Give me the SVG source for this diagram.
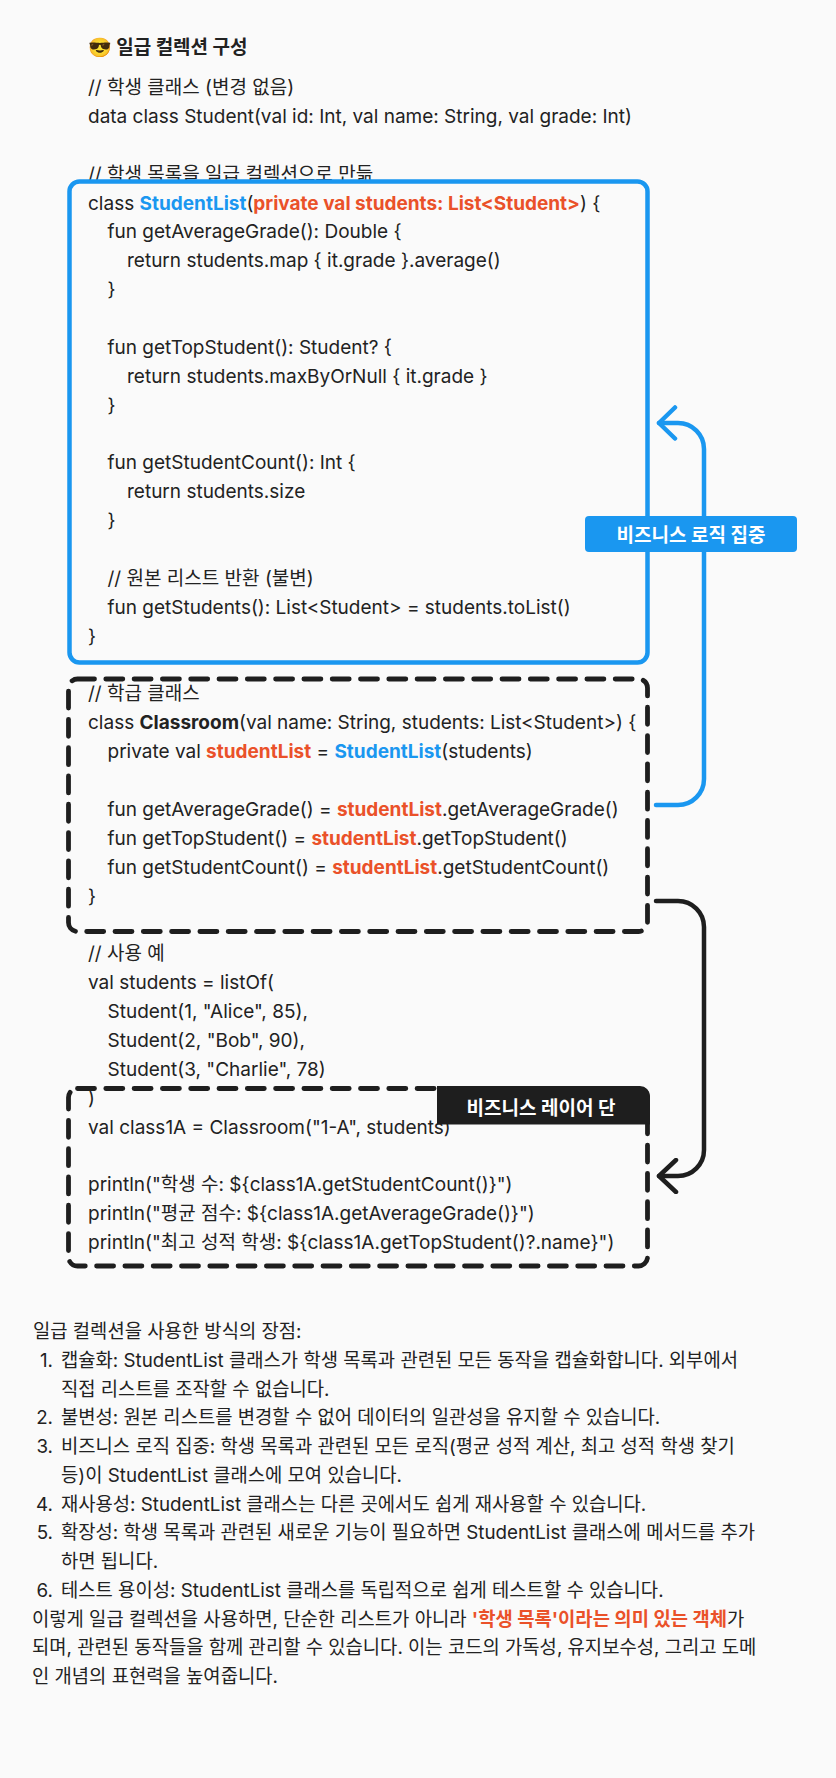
<svg xmlns="http://www.w3.org/2000/svg" width="836" height="1778" viewBox="0 0 836 1778">
<defs>
<style>
.t{font-family:Inter,"Noto Sans CJK KR",sans-serif;font-size:19px;fill:#222}
.n{font-size:18.8px}
.h{font-weight:700;font-size:19px}
.bl{fill:#1a97f0;font-weight:700}
.rd{fill:#ea5129;font-weight:700}
.bd{font-weight:700}
.badge{font-family:Inter,"Noto Sans CJK KR",sans-serif;font-size:19px;font-weight:700;fill:#fff}
.dash{fill:#fafafa;stroke:#1e1e1e;stroke-width:4.8;stroke-dasharray:17 11.3;stroke-linecap:round}
.conn{fill:none;stroke-width:4.5;stroke-linecap:round;stroke-linejoin:round}
</style>
<marker id="chevB" viewBox="-20 -18 24 36" markerWidth="24" markerHeight="36" refX="0" refY="0" orient="auto" markerUnits="userSpaceOnUse">
<path d="M-16,-15.5 L0,0 L-16,15.5" fill="none" stroke="#1a97f0" stroke-width="4.5" stroke-linecap="round" stroke-linejoin="round"/>
</marker>
<marker id="chevK" viewBox="-20 -18 24 36" markerWidth="24" markerHeight="36" refX="0" refY="0" orient="auto" markerUnits="userSpaceOnUse">
<path d="M-17,-16 L0,0 L-17,16" fill="none" stroke="#1e1e1e" stroke-width="4.5" stroke-linecap="round" stroke-linejoin="round"/>
</marker>
</defs>
<rect x="0" y="0" width="836" height="1778" fill="#fafafa"/>

<g id="title">
<text class="t h" x="88" y="54"><tspan font-family="'Noto Color Emoji','DejaVu Sans',sans-serif">😎</tspan> 일급 컬렉션 구성</text>
</g>

<g id="code-header">
<text class="t" x="88" y="94">// 학생 클래스 (변경 없음)</text>
<text class="t" x="88" y="122.9">data class Student(val id: Int, val name: String, val grade: Int)</text>
<text class="t" x="88" y="180.6">// 학생 목록을 일급 컬렉션으로 만듦</text>
</g>

<g id="node-studentlist">
<rect x="69.5" y="181.5" width="578" height="481" rx="10" fill="#fafafa" stroke="#1a97f0" stroke-width="4.5"/>
<text class="t" x="88" y="209.5">class <tspan class="bl">StudentList</tspan>(<tspan class="rd">private val students: List&lt;Student&gt;</tspan>) {</text>
<text class="t" x="107.5" y="238.4">fun getAverageGrade(): Double {</text>
<text class="t" x="127" y="267.3">return students.map { it.grade }.average()</text>
<text class="t" x="107.5" y="296.1">}</text>
<text class="t" x="107.5" y="353.9">fun getTopStudent(): Student? {</text>
<text class="t" x="127" y="382.8">return students.maxByOrNull { it.grade }</text>
<text class="t" x="107.5" y="411.6">}</text>
<text class="t" x="107.5" y="469.4">fun getStudentCount(): Int {</text>
<text class="t" x="127" y="498.3">return students.size</text>
<text class="t" x="107.5" y="527.1">}</text>
<text class="t" x="107.5" y="584.9">// 원본 리스트 반환 (불변)</text>
<text class="t" x="107.5" y="613.8">fun getStudents(): List&lt;Student&gt; = students.toList()</text>
<text class="t" x="88" y="642.6">}</text>
</g>

<g id="node-classroom">
<rect class="dash" x="68.5" y="679" width="579" height="252.5" rx="9"/>
<text class="t" x="88" y="700.4">// 학급 클래스</text>
<text class="t" x="88" y="729.3">class <tspan class="bd">Classroom</tspan>(val name: String, students: List&lt;Student&gt;) {</text>
<text class="t" x="107.5" y="758.1">private val <tspan class="rd">studentList</tspan> = <tspan class="bl">StudentList</tspan>(students)</text>
<text class="t" x="107.5" y="815.9">fun getAverageGrade() = <tspan class="rd">studentList</tspan>.getAverageGrade()</text>
<text class="t" x="107.5" y="844.8">fun getTopStudent() = <tspan class="rd">studentList</tspan>.getTopStudent()</text>
<text class="t" x="107.5" y="873.6">fun getStudentCount() = <tspan class="rd">studentList</tspan>.getStudentCount()</text>
<text class="t" x="88" y="902.5">}</text>
</g>

<g id="code-usage">
<text class="t" x="88" y="960.3">// 사용 예</text>
<text class="t" x="88" y="989.1">val students = listOf(</text>
<text class="t" x="107.5" y="1018">Student(1, "Alice", 85),</text>
<text class="t" x="107.5" y="1046.9">Student(2, "Bob", 90),</text>
<text class="t" x="107.5" y="1075.8">Student(3, "Charlie", 78)</text>
</g>

<g id="node-business-layer">
<rect class="dash" x="68.5" y="1088.5" width="579" height="177.5" rx="9"/>
<text class="t" x="88" y="1104.6">)</text>
<text class="t" x="88" y="1133.5">val class1A = Classroom("1-A", students)</text>
<text class="t" x="88" y="1191.3">println("학생 수: ${class1A.getStudentCount()}")</text>
<text class="t" x="88" y="1220.1">println("평균 점수: ${class1A.getAverageGrade()}")</text>
<text class="t" x="88" y="1249">println("최고 성적 학생: ${class1A.getTopStudent()?.name}")</text>
<path d="M437,1086 H640 A10,10 0 0 1 650,1096 V1124.5 H437 Z" fill="#1e1e1e"/>
<text class="badge" x="541" y="1114.5" text-anchor="middle">비즈니스 레이어 단</text>
</g>

<g id="connectors">
<path class="conn" stroke="#1a97f0" d="M656,805 H678 A26,26 0 0 0 704,779 V449 A26,26 0 0 0 678,423 H659" marker-end="url(#chevB)"/>
<path class="conn" stroke="#1e1e1e" d="M656,901 H678 A26,26 0 0 1 704,927 V1150 A26,26 0 0 1 678,1176 H659" marker-end="url(#chevK)"/>
<rect x="585" y="516" width="212" height="36" rx="4" fill="#1a97f0"/>
<text class="badge" x="691" y="541.5" text-anchor="middle">비즈니스 로직 집중</text>
</g>

<g id="notes">
<text class="t n" x="33" y="1338">일급 컬렉션을 사용한 방식의 장점:</text>
<text class="t n" x="53" y="1366.8" text-anchor="end">1.</text>
<text class="t n" x="61" y="1366.8">캡슐화: StudentList 클래스가 학생 목록과 관련된 모든 동작을 캡슐화합니다. 외부에서</text>
<text class="t n" x="61" y="1395.5">직접 리스트를 조작할 수 없습니다.</text>
<text class="t n" x="53" y="1424.3" text-anchor="end">2.</text>
<text class="t n" x="61" y="1424.3">불변성: 원본 리스트를 변경할 수 없어 데이터의 일관성을 유지할 수 있습니다.</text>
<text class="t n" x="53" y="1453" text-anchor="end">3.</text>
<text class="t n" x="61" y="1453">비즈니스 로직 집중: 학생 목록과 관련된 모든 로직(평균 성적 계산, 최고 성적 학생 찾기</text>
<text class="t n" x="61" y="1481.8">등)이 StudentList 클래스에 모여 있습니다.</text>
<text class="t n" x="53" y="1510.5" text-anchor="end">4.</text>
<text class="t n" x="61" y="1510.5">재사용성: StudentList 클래스는 다른 곳에서도 쉽게 재사용할 수 있습니다.</text>
<text class="t n" x="53" y="1539.3" text-anchor="end">5.</text>
<text class="t n" x="61" y="1539.3">확장성: 학생 목록과 관련된 새로운 기능이 필요하면 StudentList 클래스에 메서드를 추가</text>
<text class="t n" x="61" y="1568">하면 됩니다.</text>
<text class="t n" x="53" y="1596.8" text-anchor="end">6.</text>
<text class="t n" x="61" y="1596.8">테스트 용이성: StudentList 클래스를 독립적으로 쉽게 테스트할 수 있습니다.</text>
<text class="t n" x="32" y="1625.5">이렇게 일급 컬렉션을 사용하면, 단순한 리스트가 아니라 <tspan class="rd">'학생 목록'이라는 의미 있는 객체</tspan>가</text>
<text class="t n" x="32" y="1654.3">되며, 관련된 동작들을 함께 관리할 수 있습니다. 이는 코드의 가독성, 유지보수성, 그리고 도메</text>
<text class="t n" x="32" y="1683">인 개념의 표현력을 높여줍니다.</text>
</g>
</svg>
